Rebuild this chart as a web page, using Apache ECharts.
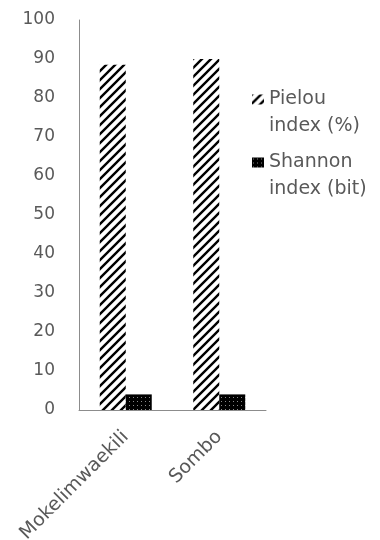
<!DOCTYPE html>
<html><head><meta charset="utf-8">
<script src="https://cdn.jsdelivr.net/npm/echarts@6/dist/echarts.min.js"></script>
<style>html,body{margin:0;padding:0;background:#fff}#c{width:380px;height:540px}</style>
</head><body><div id="c"></div>
<script>
const categories = ['Mokelimwaekili', 'Sombo'];
const pielou = [88.5, 90];
const shannon = [4.0, 4.0];
const seriesNames = ['Pielou index (%)', 'Shannon index (bit)'];

function hatch() {
  const s = 9, c = document.createElement('canvas');
  c.width = s; c.height = s;
  const g = c.getContext('2d');
  g.fillStyle = '#fff'; g.fillRect(0, 0, s, s);
  g.strokeStyle = '#000'; g.lineWidth = 2.4;
  g.beginPath();
  g.moveTo(-2, s + 2); g.lineTo(s + 2, -2);
  g.moveTo(-2, 2); g.lineTo(2, -2);
  g.moveTo(s - 2, s + 2); g.lineTo(s + 2, s - 2);
  g.stroke();
  return c;
}
function dots() {
  const s = 4, c = document.createElement('canvas');
  c.width = s; c.height = s;
  const g = c.getContext('2d');
  g.fillStyle = '#000'; g.fillRect(0, 0, s, s);
  g.fillStyle = '#8a8a8a'; g.fillRect(1, 1, 1, 1);
  return c;
}
const chart = echarts.init(document.getElementById('c'), null, {renderer: 'canvas'});
const txt = '#595959';
chart.setOption({
  animation: false,
  grid: {left: 79, right: 114, top: 20, bottom: 130, containLabel: false, outerBoundsMode: 'none'},
  legend: {
    orient: 'vertical', left: 247, top: 54,
    itemWidth: 12, itemHeight: 10, itemGap: -18,
    icon: 'rect',
    formatter: n => '\n' + n.replace(' ', '\n'),
    textStyle: {color: txt, fontSize: 19, fontFamily: 'DejaVu Sans', lineHeight: 27},
    data: seriesNames
  },
  xAxis: {
    type: 'category', data: categories,
    axisLine: {lineStyle: {color: '#8c8c8c', width: 1}},
    axisTick: {show: false},
    axisLabel: {rotate: 45, margin: 24, color: txt, fontSize: 19, fontFamily: 'DejaVu Sans'}
  },
  yAxis: {
    type: 'value', min: 0, max: 100, interval: 10,
    axisLine: {show: true, lineStyle: {color: '#8c8c8c', width: 1}},
    axisTick: {show: false},
    splitLine: {show: false},
    axisLabel: {margin: 24, color: txt, fontSize: 17, fontFamily: 'DejaVu Sans', padding: [5, 0, 0, 0]}
  },
  series: [
    {name: seriesNames[0], type: 'bar', data: pielou, barWidth: 26, barGap: '0%',
     itemStyle: {color: {image: hatch(), repeat: 'repeat'}}},
    {name: seriesNames[1], type: 'bar', data: shannon, barWidth: 26,
     itemStyle: {color: {image: dots(), repeat: 'repeat'}}}
  ]
});
</script></body></html>
